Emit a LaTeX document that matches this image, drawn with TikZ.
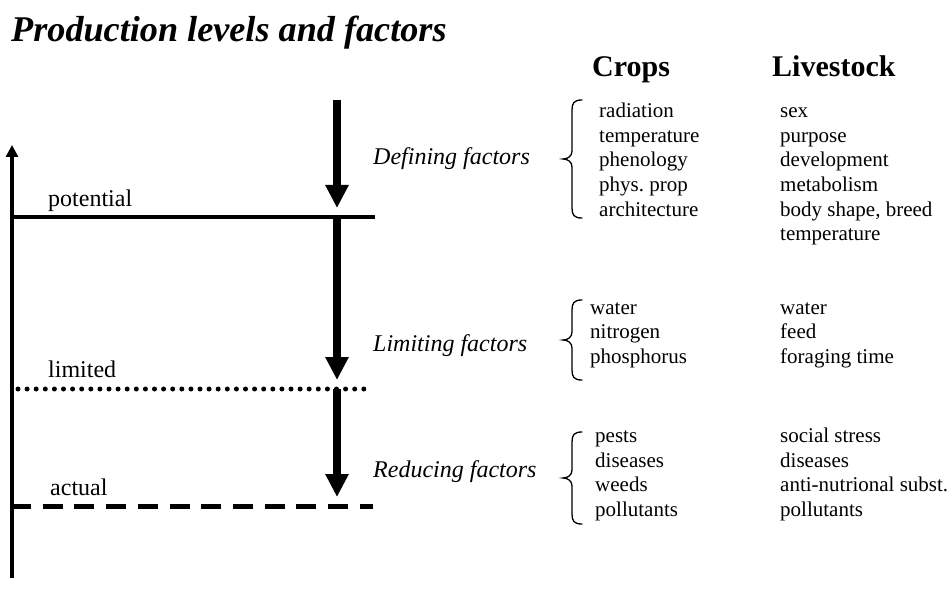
\documentclass[tikz,border=0pt]{standalone}
\usepackage{fontspec}
\setmainfont{Liberation Serif}
\usetikzlibrary{arrows.meta}

% curly brace: #1 = x of the hooks, #2 = top, #3 = bottom (y grows downward)
\newcommand\factorbrace[3]{%
  \pgfmathsetmacro\bmid{(#2+#3)/2}%
  \draw[bracestyle]
    (#1,#2) .. controls (#1-8,#2) and (#1-10,#2+3) .. (#1-10,#2+10)
    -- (#1-10,\bmid-8) .. controls (#1-10,\bmid-3) and (#1-14,\bmid) .. (#1-19,\bmid)
    .. controls (#1-14,\bmid) and (#1-10,\bmid+3) .. (#1-10,\bmid+8)
    -- (#1-10,#3-10) .. controls (#1-10,#3-3) and (#1-8,#3) .. (#1,#3);%
}

\begin{document}
\begin{tikzpicture}[x=1pt,y=-1pt,
  body/.style={anchor=base west, inner sep=0pt, font=\fontsize{21}{25}\selectfont},
  levellabel/.style={anchor=base west, inner sep=0pt, font=\fontsize{24}{28}\selectfont},
  factor/.style={anchor=base west, inner sep=0pt, font=\fontsize{24}{28}\selectfont\itshape},
  colhead/.style={anchor=base west, inner sep=0pt, font=\fontsize{30}{34}\selectfont\bfseries},
  flow/.style={line width=8pt, -{Triangle[width=22pt,length=23pt]}},
  axisline/.style={line width=4.5pt, -{Triangle[width=12pt,length=12pt]}},
  bracestyle/.style={line width=1.3pt, line cap=round}
]
\useasboundingbox (0,0) rectangle (949,612);

% title
\node[anchor=base west, inner sep=0pt, font=\fontsize{36.2}{40}\selectfont\bfseries\itshape]
  (title) at (11,42) {Production levels and factors};

% column headings
\node[colhead] (crops) at (592,77) {Crops};
\node[colhead] (livestock) at (772,77) {Livestock};

% production axis
\coordinate (axbot) at (12,578);
\coordinate (axtop) at (12,145);
\draw[axisline] (axbot) -- (axtop);

% production levels
\coordinate (potL) at (10,217);  \coordinate (potR) at (375,217);
\coordinate (limL) at (18,389);  \coordinate (limR) at (365,389);
\coordinate (actL) at (11,506);  \coordinate (actR) at (373,506);
\draw[line width=4pt] (potL) -- (potR);
\draw[line width=5pt, line cap=round, dash pattern=on 0pt off 9.1pt] (limL) -- (limR);
\draw[line width=5pt, dash pattern=on 20pt off 11.7pt] (actL) -- (actR);

\node[levellabel] (potential) at (48,207) {potential};
\node[levellabel] (limited) at (48,377) {limited};
\node[levellabel] (actual) at (50,495) {actual};

% factor arrows
\coordinate (f1s) at (337,100); \coordinate (f1e) at (337,208);
\coordinate (f2s) at (337,217); \coordinate (f2e) at (337,380);
\coordinate (f3s) at (337,389); \coordinate (f3e) at (337,497);
\draw[flow] (f1s) -- (f1e);
\draw[flow] (f2s) -- (f2e);
\draw[flow] (f3s) -- (f3e);

\node[factor] (defining) at (373,165) {Defining factors};
\node[factor] (limiting) at (373,351) {Limiting factors};
\node[factor] (reducing) at (373,477) {Reducing factors};

% braces
\factorbrace{582}{100}{218}
\factorbrace{582}{300}{380}
\factorbrace{582}{432}{524}

% defining factors
\foreach \t [count=\i] in {radiation,temperature,phenology,phys.\ prop,architecture}
  \node[body] (dc\i) at (599,{118+24.5*(\i-1)}) {\t};
\foreach \t [count=\i] in {sex,purpose,development,metabolism,{body shape, breed},temperature}
  \node[body] (dl\i) at (780,{118+24.5*(\i-1)}) {\t};

% limiting factors
\foreach \t [count=\i] in {water,nitrogen,phosphorus}
  \node[body] (lc\i) at (590,{314+24.5*(\i-1)}) {\t};
\foreach \t [count=\i] in {water,feed,foraging time}
  \node[body] (ll\i) at (780,{314+24.5*(\i-1)}) {\t};

% reducing factors
\foreach \t [count=\i] in {pests,diseases,weeds,pollutants}
  \node[body] (rc\i) at (595,{442.5+24.5*(\i-1)}) {\t};
\foreach \t [count=\i] in {social stress,diseases,anti-nutrional subst.,pollutants}
  \node[body] (rl\i) at (780,{442.5+24.5*(\i-1)}) {\t};

\end{tikzpicture}
\end{document}
